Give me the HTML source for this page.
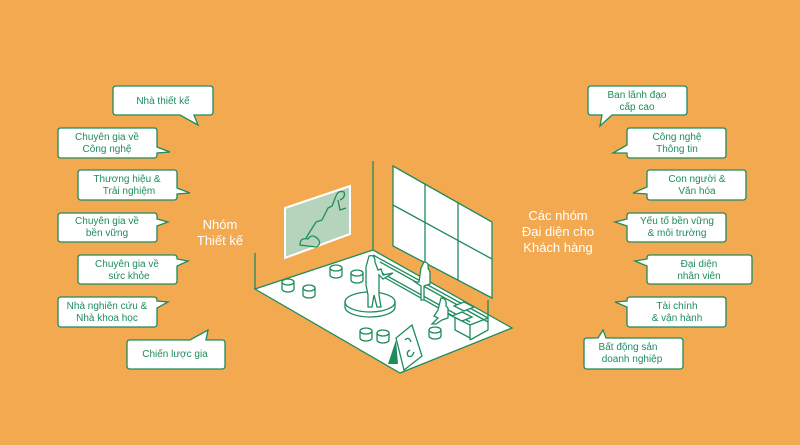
<!DOCTYPE html>
<html><head><meta charset="utf-8"><style>
html,body{margin:0;padding:0;background:#F2A950;}
svg{display:block;}
text{font-family:"Liberation Sans","DejaVu Sans",sans-serif;}
.b{fill:#fff;stroke:#1E8C5C;stroke-width:1.3;}
.t{fill:#1E8C5C;font-size:10px;text-anchor:middle;}
.w{fill:#fff;font-size:13px;text-anchor:middle;}
.l{fill:none;stroke:#1E8C5C;stroke-width:1.3;}
.lw{fill:#fff;stroke:#1E8C5C;stroke-width:1.3;}
</style></head><body>
<svg width="800" height="445" viewBox="0 0 800 445">
<rect width="800" height="445" fill="#F2A950"/>
<!-- left bubbles -->
<path class="b" d="M116,86 H210 Q213,86 213,89 V112 Q213,115 210,115 H194 L198,125 L180,115 H116 Q113,115 113,112 V89 Q113,86 116,86Z"/>
<text class="t" x="163" y="104">Nhà thiết kế</text>
<path class="b" d="M61,128 H154 Q157,128 157,131 V147 L170,152 L157,153 V155 Q157,158 154,158 H61 Q58,158 58,155 V131 Q58,128 61,128Z"/>
<text class="t" x="107" y="140">Chuyên gia về</text><text class="t" x="107" y="152">Công nghệ</text>
<path class="b" d="M81,170 H174 Q177,170 177,173 V188 L190,193 L177,194 V197 Q177,200 174,200 H81 Q78,200 78,197 V173 Q78,170 81,170Z"/>
<text class="t" x="127" y="182">Thương hiệu &amp;</text><text class="t" x="129" y="194">Trải nghiệm</text>
<path class="b" d="M61,213 H154 Q157,213 157,216 V219 L168,222 L157,226 V239 Q157,242 154,242 H61 Q58,242 58,239 V216 Q58,213 61,213Z"/>
<text class="t" x="107" y="224">Chuyên gia về</text><text class="t" x="107" y="236">bền vững</text>
<path class="b" d="M81,255 H174 Q177,255 177,258 V259 L188,261 L177,266 V281 Q177,284 174,284 H81 Q78,284 78,281 V258 Q78,255 81,255Z"/>
<text class="t" x="127" y="267">Chuyên gia về</text><text class="t" x="129" y="279">sức khỏe</text>
<path class="b" d="M61,297 H154 Q157,297 157,300 V301 L168,302 L157,308 V324 Q157,327 154,327 H61 Q58,327 58,324 V300 Q58,297 61,297Z"/>
<text class="t" x="107" y="309">Nhà nghiên cứu &amp;</text><text class="t" x="107" y="321">Nhà khoa học</text>
<path class="b" d="M130,340 H190 L208,330 L206,340 H222 Q225,340 225,343 V366 Q225,369 222,369 H130 Q127,369 127,366 V343 Q127,340 130,340Z"/>
<text class="t" x="175" y="357">Chiến lược gia</text>
<text class="w" x="220" y="229">Nhóm</text><text class="w" x="220" y="245">Thiết kế</text>
<!-- right bubbles -->
<path class="b" d="M591,86 H684 Q687,86 687,89 V112 Q687,115 684,115 H612 L600,126 L602,115 H591 Q588,115 588,112 V89 Q588,86 591,86Z"/>
<text class="t" x="637" y="98">Ban lãnh đạo</text><text class="t" x="637" y="110">cấp cao</text>
<path class="b" d="M630,128 H723 Q726,128 726,131 V155 Q726,158 723,158 H630 Q627,158 627,155 V153 L613,153 L627,145 V131 Q627,128 630,128Z"/>
<text class="t" x="677" y="140">Công nghệ</text><text class="t" x="677" y="152">Thông tin</text>
<path class="b" d="M650,170 H743 Q746,170 746,173 V197 Q746,200 743,200 H650 Q647,200 647,197 V194 L633,193 L647,187 V173 Q647,170 650,170Z"/>
<text class="t" x="697" y="182">Con người &amp;</text><text class="t" x="697" y="194">Văn hóa</text>
<path class="b" d="M630,213 H723 Q726,213 726,216 V239 Q726,242 723,242 H630 Q627,242 627,239 V226 L615,222 L627,219 V216 Q627,213 630,213Z"/>
<text class="t" x="677" y="224">Yếu tố bền vững</text><text class="t" x="677" y="236">&amp; môi trường</text>
<path class="b" d="M650,255 H749 Q752,255 752,258 V281 Q752,284 749,284 H650 Q647,284 647,281 V266 L635,261 L647,259 V258 Q647,255 650,255Z"/>
<text class="t" x="699" y="267">Đại diện</text><text class="t" x="699" y="279">nhân viên</text>
<path class="b" d="M630,297 H723 Q726,297 726,300 V324 Q726,327 723,327 H630 Q627,327 627,324 V307 L615,302 L627,301 V300 Q627,297 630,297Z"/>
<text class="t" x="677" y="309">Tài chính</text><text class="t" x="677" y="321">&amp; vận hành</text>
<path class="b" d="M587,338 H598 L603,330 L606,338 H680 Q683,338 683,341 V366 Q683,369 680,369 H587 Q584,369 584,366 V341 Q584,338 587,338Z"/>
<text class="t" x="628" y="350">Bất động sản</text><text class="t" x="632" y="362">doanh nghiệp</text>
<text class="w" x="558" y="220">Các nhóm</text><text class="w" x="558" y="236">Đại diện cho</text><text class="w" x="558" y="252">Khách hàng</text>
<!-- room -->
<line class="l" x1="255" y1="253" x2="255" y2="289" stroke-width="2"/>
<line class="l" x1="373" y1="161" x2="373" y2="250" stroke-width="2"/>
<polygon class="lw" points="255,289 373,250 512,328 400,373" stroke-width="2"/>
<polygon points="285,208 350,186 350,234 285,258" fill="#B6D4BC" stroke="#fff" stroke-width="2"/>
<path class="l" d="M300,245 q0,-8 8,-6 q4,-6 10,0 q4,5 -2,8 z M306,238 L316,222 L322,220 L328,208 L332,206 L336,196 M336,196 q2,-6 8,-4 q2,5 -4,8 M338,200 L340,210 L346,208" stroke="#fff" stroke-width="1.5"/>
<polygon class="lw" points="393,166 492,222 492,298 393,246" stroke-width="2"/>
<line class="l" x1="393" y1="205" x2="492" y2="259"/>
<line class="l" x1="425" y1="184" x2="425" y2="263"/>
<line class="l" x1="458" y1="202" x2="458" y2="280"/>
<!-- steps -->
<path class="l" d="M373,255 L488,318 M380,262 L488,322 M373,268 L470,322 M380,275 L460,320 M440,310 L470,325 L470,340 M470,325 L488,318 M455,318 L455,330 L470,338 M488,300 L488,330 L470,340"/>
<polygon class="lw" points="454,306 464,302 474,307 464,311"/>
<polygon class="lw" points="452,316 462,312 472,317 462,321"/>
<!-- stage -->
<ellipse class="lw" cx="370" cy="302" rx="25" ry="10"/>
<path class="l" d="M345,302 v5 a25,10 0 0 0 50,0 v-5"/>
<!-- stools -->
<g class="lw">
<path class="lw" d="M282,282 v7 a6,3 0 0 0 12,0 v-7"/><ellipse class="lw" cx="288" cy="282" rx="6" ry="3"/>
<path class="lw" d="M303,288 v7 a6,3 0 0 0 12,0 v-7"/><ellipse class="lw" cx="309" cy="288" rx="6" ry="3"/>
<path class="lw" d="M330,268 v7 a6,3 0 0 0 12,0 v-7"/><ellipse class="lw" cx="336" cy="268" rx="6" ry="3"/>
<path class="lw" d="M351,273 v7 a6,3 0 0 0 12,0 v-7"/><ellipse class="lw" cx="357" cy="273" rx="6" ry="3"/>
<path class="lw" d="M360,331 v7 a6,3 0 0 0 12,0 v-7"/><ellipse class="lw" cx="366" cy="331" rx="6" ry="3"/>
<path class="lw" d="M377,333 v7 a6,3 0 0 0 12,0 v-7"/><ellipse class="lw" cx="383" cy="333" rx="6" ry="3"/>
<path class="lw" d="M429,330 v6 a6,3 0 0 0 12,0 v-6"/><ellipse class="lw" cx="435" cy="330" rx="6" ry="3"/>
</g>
<!-- people -->
<path class="lw" d="M369,256 q6,-2 6,6 l3,8 l3,-1 l2,6 l10,-2 l-10,6 l-4,-4 v20 l2,12 h-4 l-3,-12 l-2,12 h-4 l0,-12 l-2,-10 l0,-18 z"/>
<path class="lw" d="M424,262 q5,0 4,6 l2,4 v12 l-6,2 v14 h-3 v-14 l-6,-4 h4 l2,-14 z"/>
<path class="lw" d="M441,298 q6,0 5,8 l2,2 v10 l-6,2 l-6,4 h-4 l6,-6 l-4,-2 l4,-6 z"/>
<!-- easel -->
<polygon points="388,364 396,340 398,364" fill="#1E8C5C"/>
<polygon class="lw" points="396,338 412,325 422,356 404,370"/>
<path class="l" d="M405,340 q4,-4 6,2 M410,350 q-4,2 -2,6 q4,2 6,-4"/>
</svg>
</body></html>
